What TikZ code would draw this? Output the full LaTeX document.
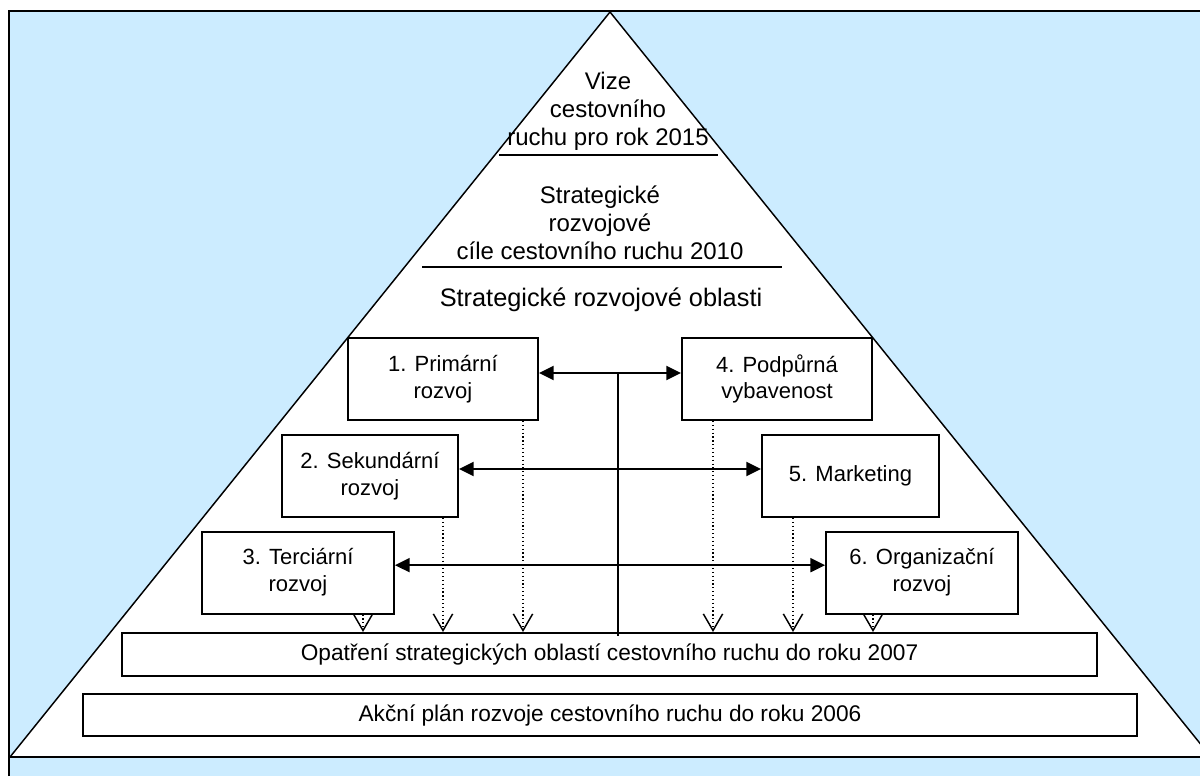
\documentclass[tikz,border=0pt]{standalone}
\usepackage{fontspec}
\setmainfont{Liberation Sans}
\usetikzlibrary{arrows.meta}
\definecolor{nebe}{RGB}{204,236,255}
\tikzset{
  oblast/.style={draw, line width=1.5pt, fill=white, minimum height=61.5pt,
    inner sep=0pt, align=center, font=\fontsize{16.5}{20}\selectfont},
  pas/.style={draw, line width=1.5pt, fill=white, inner sep=0pt,
    font=\fontsize{17}{20}\selectfont},
  hlava/.style={align=center, font=\fontsize{18}{21}\selectfont},
  dvoj/.style={{Triangle[length=11pt,width=10.5pt]}-{Triangle[length=11pt,width=10.5pt]}, line width=1.5pt},
  tecky/.style={-{Straight Barb[length=12.5pt,width=14.5pt,line width=1.1pt]}, dotted, line width=0.9pt}
}

\begin{document}
\begin{tikzpicture}[x=0.75pt, y=-0.75pt]
\useasboundingbox (0,0) rectangle (1200,776);
% pozadi a trojuhelnik
\fill[nebe] (9,11) rectangle (1200,776);
\draw[line width=1.5pt] (9,776) -- (9,11) -- (1200,11);
\draw[line width=1.1pt, fill=white] (610,12) -- (10,757) -- (1211,757) -- cycle;
\draw[line width=1.5pt] (9,757) -- (1200,757);

% vrchol
\node[hlava] (vize) at (608,111) {Vize\\cestovního\\ruchu pro rok 2015};
\draw[line width=1.5pt] (499,155) -- (718,155);
\node[hlava] (cile) at (600,223) {Strategické\\rozvojové\\cíle cestovního ruchu 2010};
\draw[line width=1.5pt] (422,267) -- (782,267);
\node[hlava, font=\fontsize{19}{22}\selectfont] (oblasti) at (601,300) {Strategické rozvojové oblasti};

% oblasti
\node[oblast, minimum width=142.5pt] (prim) at (443,379) {1. Primární\\rozvoj};
\node[oblast, minimum width=142.5pt] (podp) at (777,379) {4. Podpůrná\\vybavenost};
\node[oblast, minimum width=132pt] (sek) at (370,476) {2. Sekundární\\rozvoj};
\node[oblast, minimum width=132.75pt] (mark) at (850.5,476) {5. Marketing};
\node[oblast, minimum width=144pt] (terc) at (298,572.5) {3. Terciární\\rozvoj};
\node[oblast, minimum width=144pt] (org) at (922,572.5) {6. Organizační\\rozvoj};

% spodni pasy
\node[pas, minimum width=731.25pt, minimum height=32.25pt] (opat) at (609.5,654.5)
  {Opatření strategických oblastí cestovního ruchu do roku 2007};
\node[pas, minimum width=790.5pt, minimum height=31.5pt] (akce) at (610,715)
  {Akční plán rozvoje cestovního ruchu do roku 2006};

% vazby
\coordinate (hub) at (618,373);
\draw[line width=1.5pt] (hub) -- ([yshift=-3pt]hub |- opat.north);
\draw[dvoj] ([yshift=4.5pt]prim.east) -- ([yshift=4.5pt]prim.east -| podp.west);
\draw[dvoj] ([yshift=5.25pt]sek.east) -- ([yshift=5.25pt]sek.east -| mark.west);
\draw[dvoj] ([yshift=5.5pt]terc.east) -- ([yshift=5.5pt]terc.east -| org.west);

\draw[tecky] ([xshift=-12pt]prim.south east) -- ([xshift=-12pt]prim.south east |- opat.north);
\draw[tecky] ([xshift=-12pt]sek.south east) -- ([xshift=-12pt]sek.south east |- opat.north);
\draw[tecky] ([xshift=-24pt]terc.south east) -- ([xshift=-24pt]terc.south east |- opat.north);
\draw[tecky] ([xshift=24pt]podp.south west) -- ([xshift=24pt]podp.south west |- opat.north);
\draw[tecky] ([xshift=24pt]mark.south west) -- ([xshift=24pt]mark.south west |- opat.north);
\draw[tecky] ([xshift=36pt]org.south west) -- ([xshift=36pt]org.south west |- opat.north);
\end{tikzpicture}
\end{document}
